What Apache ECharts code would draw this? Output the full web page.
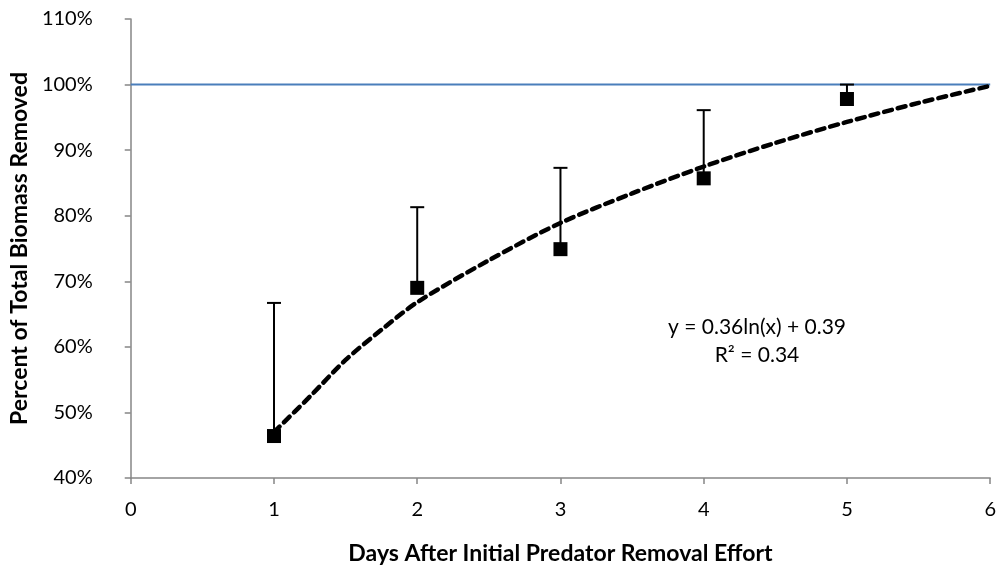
<!DOCTYPE html>
<html>
<head>
<meta charset="utf-8">
<script src="https://cdn.jsdelivr.net/npm/echarts@6/dist/echarts.min.js"></script>
<style>html,body{margin:0;padding:0;background:#fff}#c{width:999px;height:581px}</style>
</head>
<body>
<div id="c"></div>
<script>
var days = [1, 2, 3, 4, 5];
var removed = [46.4, 69.0, 74.9, 85.7, 97.8];
var errorTop = [66.7, 81.3, 87.3, 96.1, 100.0];
var trendX = [1, 1.25, 1.5, 1.75, 2, 2.5, 3, 3.5, 4, 4.5, 5, 5.5, 6];
var trendY = [47.0, 52.4, 58.0, 62.6, 66.8, 73.2, 78.9, 83.4, 87.5, 91.1, 94.3, 97.2, 99.8];
var xTicks = [0, 1, 2, 3, 4, 5, 6];
var yTicks = [40, 50, 60, 70, 80, 90, 100, 110];
var refLine = 100;
var eqText = ['y = 0.36ln(x) + 0.39', 'R\u00B2 = 0.34'];

var FONT = 'Lato, "Open Sans", sans-serif';
var chart = echarts.init(document.getElementById('c'));
var points = days.map(function (d, i) { return [d, removed[i]]; });
var errs = days.map(function (d, i) { return [d, removed[i], errorTop[i]]; });
var trend = trendX.map(function (x, i) { return [x, trendY[i]]; });

chart.setOption({
  animation: false,
  backgroundColor: '#fff',
  grid: { left: 124, right: 6, top: 19, bottom: 103, containLabel: false },
  xAxis: {
    type: 'value', min: xTicks[0], max: xTicks[xTicks.length - 1], interval: 1,
    name: 'Days After Initial Predator Removal Effort',
    nameLocation: 'middle', nameGap: 64,
    nameTextStyle: { fontFamily: FONT, fontWeight: 'bold', fontSize: 23, color: '#000' },
    axisLine: { lineStyle: { color: '#868686', width: 1.5 } },
    axisTick: { show: true, length: 6, lineStyle: { color: '#868686', width: 1.5 } },
    axisLabel: { fontFamily: FONT, fontSize: 20, color: '#000', margin: 22 },
    splitLine: { show: false }
  },
  yAxis: {
    type: 'value', min: yTicks[0], max: yTicks[yTicks.length - 1], interval: 10,
    name: 'Percent of Total Biomass Removed',
    nameLocation: 'middle', nameGap: 92,
    nameTextStyle: { fontFamily: FONT, fontWeight: 'bold', fontSize: 23, color: '#000' },
    axisLine: { show: true, lineStyle: { color: '#868686', width: 1.5 } },
    axisTick: { show: true, length: 6, lineStyle: { color: '#868686', width: 1.5 } },
    axisLabel: { fontFamily: FONT, fontSize: 20, color: '#000', margin: 38, formatter: '{value}%' },
    splitLine: { show: false }
  },
  series: [
    {
      type: 'line', data: [[xTicks[0], refLine], [xTicks[xTicks.length - 1], refLine]],
      symbol: 'none', lineStyle: { color: '#4A7EBB', width: 2 }, z: 1, silent: true
    },
    {
      type: 'line', data: trend, smooth: 0.3, symbol: 'none',
      lineStyle: { color: '#000', width: 4.5, type: [8, 6], cap: 'round' }, z: 2
    },
    {
      type: 'custom', data: errs, z: 3,
      renderItem: function (params, api) {
        var x = api.value(0);
        var lo = api.coord([x, api.value(1)]);
        var hi = api.coord([x, api.value(2)]);
        var style = { stroke: '#000', lineWidth: 2 };
        return {
          type: 'group', children: [
            { type: 'line', shape: { x1: lo[0], y1: lo[1], x2: hi[0], y2: hi[1] }, style: style },
            { type: 'line', shape: { x1: hi[0] - 7, y1: hi[1], x2: hi[0] + 7, y2: hi[1] }, style: style }
          ]
        };
      }
    },
    {
      type: 'scatter', data: points, symbol: 'rect', symbolSize: 14,
      itemStyle: { color: '#000', opacity: 1 }, z: 4
    }
  ],
  graphic: [
    {
      type: 'text', x: 757, y: 327,
      style: { text: eqText[0], fontFamily: FONT, fontSize: 21, fill: '#000', align: 'center', verticalAlign: 'middle' }
    },
    {
      type: 'text', x: 757, y: 355,
      style: { text: eqText[1], fontFamily: FONT, fontSize: 21, fill: '#000', align: 'center', verticalAlign: 'middle' }
    }
  ]
});
</script>
</body>
</html>
